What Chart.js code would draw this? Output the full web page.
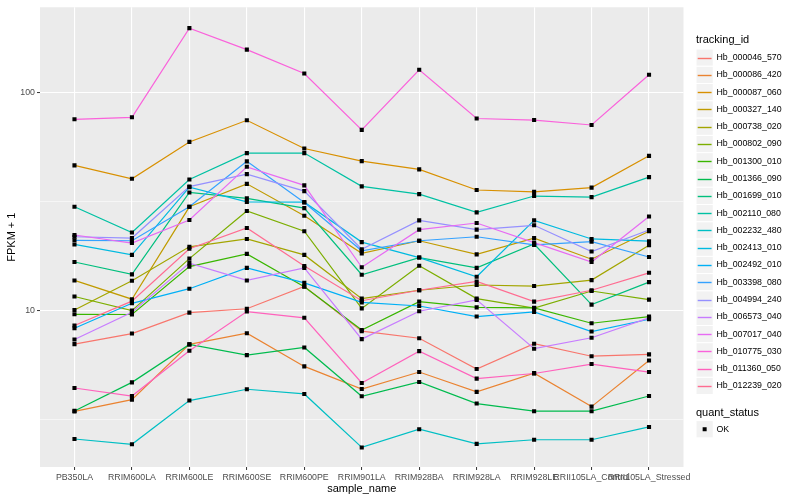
<!DOCTYPE html>
<html>
<head>
<meta charset="utf-8">
<script src="https://cdn.jsdelivr.net/npm/chart.js@4.4.1/dist/chart.umd.min.js"></script>
<style>
html, body { margin: 0; padding: 0; background: #ffffff; }
</style>
</head>
<body>
<canvas id="myChart" width="800" height="500"></canvas>
<script>
const categories = ['PB350LA', 'RRIM600LA', 'RRIM600LE', 'RRIM600SE', 'RRIM600PE', 'RRIM901LA',
    'RRIM928BA', 'RRIM928LA', 'RRIM928LE', 'RRII105LA_Control', 'RRII105LA_Stressed'];

const seriesNames = ['Hb_000046_570', 'Hb_000086_420', 'Hb_000087_060', 'Hb_000327_140', 'Hb_000738_020',
    'Hb_000802_090', 'Hb_001300_010', 'Hb_001366_090', 'Hb_001699_010', 'Hb_002110_080',
    'Hb_002232_480', 'Hb_002413_010', 'Hb_002492_010', 'Hb_003398_080', 'Hb_004994_240',
    'Hb_006573_040', 'Hb_007017_040', 'Hb_010775_030', 'Hb_011360_050', 'Hb_012239_020'];

const seriesColors = ['#F8766D', '#EA8331', '#D89000', '#C09B00', '#A3A500', '#7CAE00', '#39B600',
    '#00BB4E', '#00BF7D', '#00C1A3', '#00BFC4', '#00BAE0', '#00B0F6', '#35A2FF', '#9590FF',
    '#C77CFF', '#E76BF3', '#FA62DB', '#FF62BC', '#FF6C91'];

// FPKM + 1 per sample
const hb_000046_570 = [7.02, 7.85, 9.79, 10.2, 12.9, 8.05, 7.47, 5.4, 7.05, 6.18, 6.3];
const hb_000086_420 = [3.45, 3.91, 7.0, 7.88, 5.55, 4.37, 5.23, 4.24, 5.17, 3.63, 5.91];
const hb_000087_060 = [46.3, 40.2, 59.3, 74.5, 55.3, 48.4, 44.4, 35.7, 35.0, 36.6, 51.2];
const hb_000327_140 = [13.75, 11.28, 29.9, 38.1, 27.2, 18.3, 20.9, 18.1, 21.5, 17.2, 23.1];
const hb_000738_020 = [10.07, 13.7, 19.6, 21.3, 18.0, 11.35, 12.4, 13.1, 12.96, 13.8, 19.95];
const hb_000802_090 = [11.6, 10.0, 17.3, 28.6, 23.1, 10.24, 16.05, 11.35, 10.27, 12.3, 11.23];
const hb_001300_010 = [9.62, 9.6, 15.9, 18.2, 12.87, 8.15, 10.99, 10.35, 10.3, 8.75, 9.39];
const hb_001366_090 = [3.47, 4.69, 7.0, 6.25, 6.78, 4.05, 4.71, 3.75, 3.46, 3.46, 4.06];
const hb_001699_010 = [16.7, 14.65, 34.8, 32.7, 29.5, 14.6, 17.5, 15.7, 20.2, 10.65, 13.5];
const hb_002110_080 = [29.9, 22.8, 39.9, 52.7, 52.7, 37.1, 34.2, 28.2, 33.5, 33.1, 40.9];
const hb_002232_480 = [2.58, 2.44, 3.87, 4.36, 4.15, 2.36, 2.86, 2.45, 2.56, 2.56, 2.93];
const hb_002413_010 = [20.1, 18.0, 36.8, 31.5, 31.4, 20.6, 17.5, 14.3, 25.9, 21.3, 20.8];
const hb_002492_010 = [8.3, 10.8, 12.6, 15.7, 13.4, 10.9, 10.5, 9.39, 9.86, 8.02, 9.13];
const hb_003398_080 = [21.0, 20.9, 29.9, 48.3, 31.3, 18.8, 20.9, 21.8, 20.0, 20.7, 17.6];
const hb_004994_240 = [21.8, 21.5, 37.0, 42.2, 35.3, 19.1, 25.9, 23.5, 24.6, 18.65, 23.4];
const hb_006573_040 = [7.37, 9.82, 16.5, 13.75, 15.7, 7.4, 9.93, 11.2, 6.69, 7.51, 9.26];
const hb_007017_040 = [22.2, 20.4, 26.0, 45.6, 37.5, 15.8, 23.5, 25.2, 20.5, 16.7, 27.0];
const hb_010775_030 = [75.3, 76.9, 197, 157, 122, 67.3, 127, 75.9, 74.7, 70.9, 120.5];
const hb_011360_050 = [4.42, 4.06, 6.55, 9.9, 9.27, 4.66, 6.52, 4.88, 5.15, 5.69, 5.23];
const hb_012239_020 = [8.54, 11.05, 19.2, 23.9, 16.0, 11.1, 12.4, 13.6, 11.0, 12.4, 14.9];

const seriesValues = [hb_000046_570, hb_000086_420, hb_000087_060, hb_000327_140, hb_000738_020,
    hb_000802_090, hb_001300_010, hb_001366_090, hb_001699_010, hb_002110_080,
    hb_002232_480, hb_002413_010, hb_002492_010, hb_003398_080, hb_004994_240,
    hb_006573_040, hb_007017_040, hb_010775_030, hb_011360_050, hb_012239_020];

const yLabels = [10, 100];
const yGrid = [3.1623, 10, 31.623, 100];

const FONT = '"Liberation Sans", Arial, Helvetica, sans-serif';

const lineSets = seriesValues.map((vals, i) => ({
    label: seriesNames[i],
    data: vals.map((v, j) => ({x: j, y: v})),
    borderColor: seriesColors[i],
    borderWidth: 1.2,
    pointRadius: 0,
    tension: 0,
    fill: false,
    order: 30 - i
}));

const pointSet = {
    label: 'OK',
    data: seriesValues.flatMap(vals => vals.map((v, j) => ({x: j, y: v}))),
    showLine: false,
    pointStyle: 'rect',
    pointRadius: 2.9,
    pointBackgroundColor: '#000000',
    pointBorderWidth: 0,
    order: 0
};

const ggPlugin = {
    id: 'gg',
    beforeDraw(chart) {
        const {ctx, chartArea: a} = chart;
        ctx.save();
        ctx.fillStyle = '#FFFFFF';
        ctx.fillRect(0, 0, chart.width, chart.height);
        ctx.fillStyle = '#EBEBEB';
        ctx.fillRect(a.left, a.top, a.right - a.left, a.bottom - a.top);
        ctx.restore();
    },
    afterDraw(chart) {
        const {ctx, chartArea: a} = chart;
        ctx.save();
        ctx.fillStyle = '#000000';
        ctx.textBaseline = 'middle';

        // axis titles
        ctx.font = '11px ' + FONT;
        ctx.textAlign = 'center';
        ctx.fillText('sample_name', (a.left + a.right) / 2, 489);
        ctx.save();
        ctx.translate(12, (a.top + a.bottom) / 2);
        ctx.rotate(-Math.PI / 2);
        ctx.fillText('FPKM + 1', 0, 0);
        ctx.restore();

        // legend: tracking_id
        const keyX = 696, keySize = 17.28;
        ctx.textAlign = 'left';
        ctx.fillText('tracking_id', 696, 40);
        ctx.font = '8.8px ' + FONT;
        seriesNames.forEach((name, i) => {
            const top = 49 + i * keySize;
            const mid = Math.round(top + keySize / 2) + 0.5;
            ctx.fillStyle = '#F2F2F2';
            ctx.fillRect(keyX, top, keySize, keySize);
            ctx.strokeStyle = '#FFFFFF';
            ctx.lineWidth = 1;
            ctx.strokeRect(keyX, top, keySize, keySize);
            ctx.strokeStyle = seriesColors[i];
            ctx.lineWidth = 1.4;
            ctx.beginPath();
            ctx.moveTo(keyX + 1.7, mid);
            ctx.lineTo(keyX + keySize - 1.7, mid);
            ctx.stroke();
            ctx.fillStyle = '#000000';
            ctx.fillText(name, 716.5, top + keySize / 2);
        });

        // legend: quant_status
        ctx.font = '11px ' + FONT;
        ctx.fillText('quant_status', 696, 412.5);
        const qTop = 420.6;
        ctx.fillStyle = '#F2F2F2';
        ctx.fillRect(keyX, qTop, keySize, keySize);
        ctx.strokeStyle = '#FFFFFF';
        ctx.lineWidth = 1;
        ctx.strokeRect(keyX, qTop, keySize, keySize);
        ctx.fillStyle = '#000000';
        ctx.fillRect(keyX + keySize / 2 - 2, qTop + keySize / 2 - 2, 4, 4);
        ctx.font = '8.8px ' + FONT;
        ctx.fillText('OK', 716.5, qTop + keySize / 2);
        ctx.restore();
    }
};

const ctx = document.getElementById('myChart').getContext('2d');
const myChart = new Chart(ctx, {
    type: 'line',
    data: { datasets: [...lineSets, pointSet] },
    options: {
        responsive: false,
        animation: false,
        events: [],
        layout: { padding: { left: 0, right: 116.5, top: 5.5, bottom: 0 } },
        plugins: { legend: { display: false }, tooltip: { enabled: false } },
        scales: {
            x: {
                type: 'linear',
                min: -0.6,
                max: 10.6,
                afterBuildTicks: s => { s.ticks = categories.map((c, i) => ({value: i})); },
                afterFit: s => { s.height = 33; },
                border: { display: false },
                grid: { color: '#FFFFFF', lineWidth: 1.1, tickColor: '#333333', tickWidth: 1, tickLength: 3 },
                ticks: {
                    autoSkip: false, maxRotation: 0, minRotation: 0, padding: 2,
                    color: '#4D4D4D', font: { family: FONT, size: 8.8 },
                    callback: v => categories[v]
                }
            },
            y: {
                type: 'logarithmic',
                min: 1.92,
                max: 245.5,
                afterBuildTicks: s => { s.ticks = yGrid.map(v => ({value: v})); },
                afterFit: s => { s.width = 40; },
                border: { display: false },
                grid: {
                    color: '#FFFFFF',
                    lineWidth: c => (c.tick && yLabels.includes(c.tick.value)) ? 1.1 : 0.55,
                    tickColor: c => (c.tick && yLabels.includes(c.tick.value)) ? '#333333' : 'rgba(0,0,0,0)',
                    tickWidth: 1,
                    tickLength: 3
                },
                ticks: {
                    padding: 2,
                    color: '#4D4D4D', font: { family: FONT, size: 8.8 },
                    callback: v => yLabels.includes(v) ? String(v) : ''
                }
            }
        }
    },
    plugins: [ggPlugin]
});
</script>
</body>
</html>
